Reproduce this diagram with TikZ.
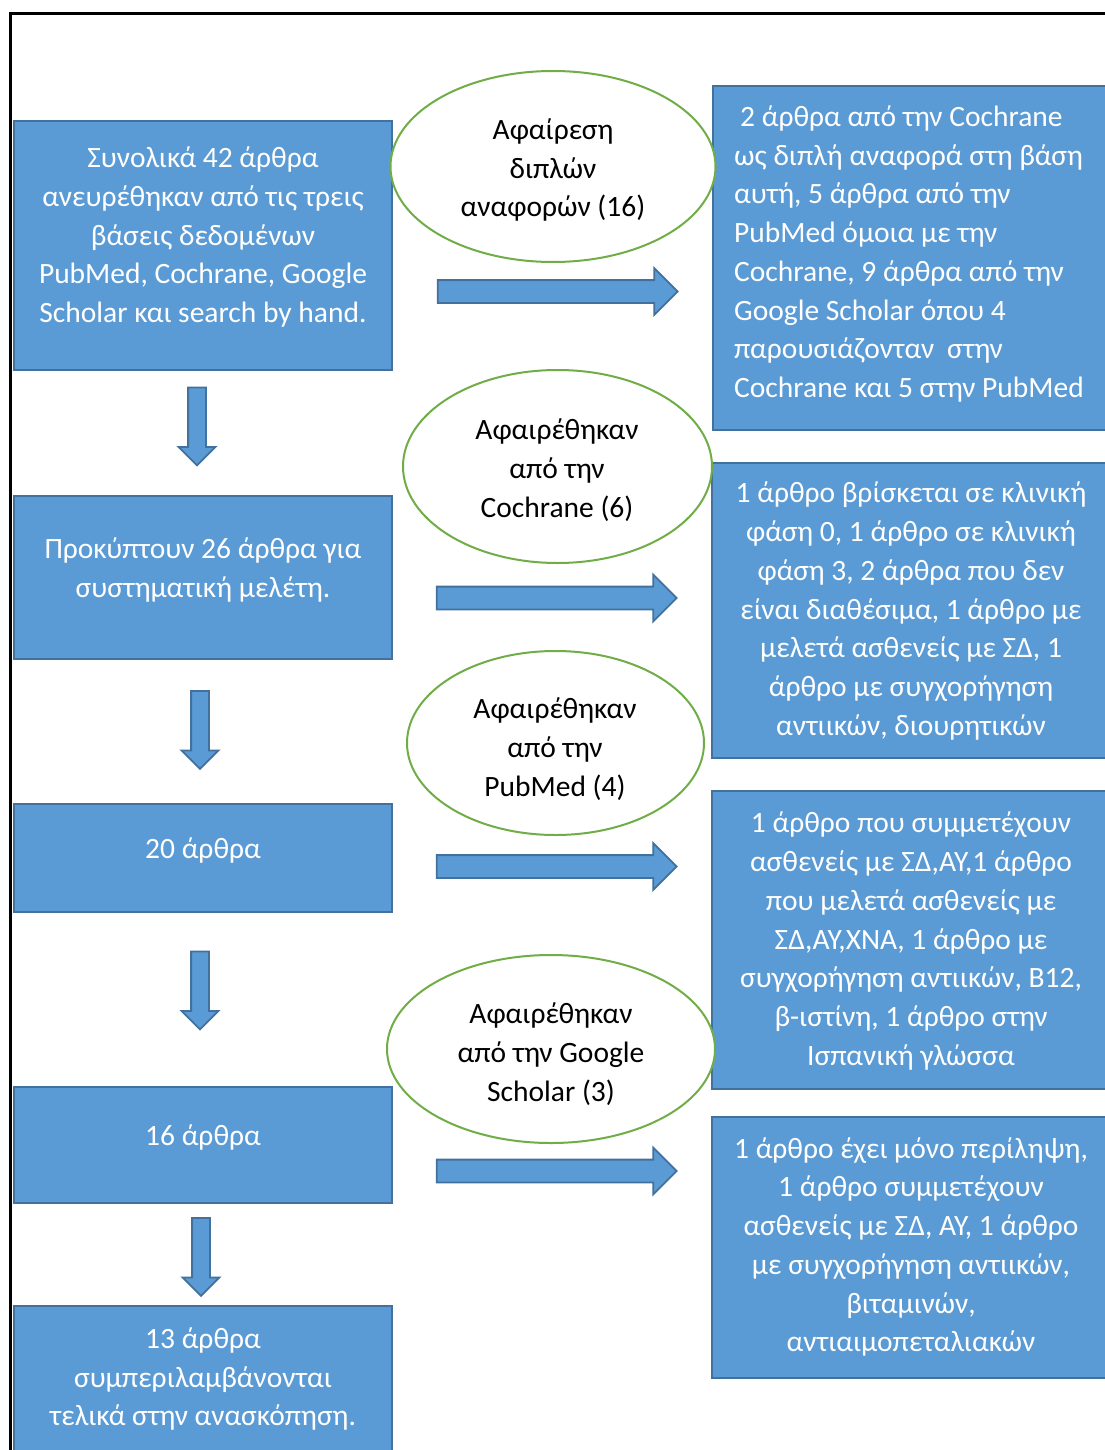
\documentclass[tikz,border=0pt]{standalone}
\usepackage{fontspec}
\setmainfont{Carlito}
\usetikzlibrary{shapes.geometric,shapes.arrows}
\definecolor{boxblue}{HTML}{5B9BD5}
\definecolor{boxedge}{HTML}{41719C}
\definecolor{ellgreen}{HTML}{70AD47}
\tikzset{
  bbox/.style={draw=boxedge, line width=1.5pt, fill=boxblue, rectangle, inner sep=0pt},
  btext/.style={text=white, align=center, inner sep=0pt, font=\fontsize{29.5}{38.75}\selectfont},
  etext/.style={text=black, align=center, inner sep=0pt, font=\fontsize{29.5}{38.75}\selectfont},
  ell/.style={draw=ellgreen, line width=2pt, fill=white, ellipse, inner sep=0pt},
  rarr/.style={single arrow, draw=boxedge, line width=1.8pt, fill=boxblue, minimum height=240pt,
    minimum width=45pt, single arrow head extend=12pt, inner xsep=0pt, inner ysep=10.5pt},
  darr/.style={single arrow, draw=boxedge, line width=1.8pt, fill=boxblue, minimum height=78pt,
    minimum width=35pt, single arrow head extend=9.5pt, inner xsep=0pt, inner ysep=8pt, rotate=-90},
}
\begin{document}
\begin{tikzpicture}[x=1pt,y=-1pt]
\useasboundingbox (0,0) rectangle (1104,1450);
\fill[white] (0,0) rectangle (1104,1450);
% outer frame
\draw[line width=3pt] (10.5,1470) -- (10.5,13.5) -- (1120,13.5);

% left column boxes
\node[bbox, minimum width=378pt, minimum height=249pt] (b1) at (203,245.5) {};
\node[bbox, minimum width=378pt, minimum height=163pt] (b2) at (203,577.5) {};
\node[bbox, minimum width=378pt, minimum height=108pt] (b3) at (203,858) {};
\node[bbox, minimum width=378pt, minimum height=116pt] (b4) at (203,1145) {};
\node[bbox, minimum width=378pt, minimum height=164pt] (b5) at (203,1388) {};

\node[btext] (t1) at (203,237) {Συνολικά 42 άρθρα\\ανευρέθηκαν από τις τρεις\\βάσεις δεδομένων\\PubMed, Cochrane, Google\\Scholar και search by hand.};
\node[btext] (t2) at (203,570) {Προκύπτουν 26 άρθρα για\\συστηματική μελέτη.};
\node[btext] (t3) at (203,850) {20 άρθρα};
\node[btext] (t4) at (203,1137) {16 άρθρα};
\node[btext] (t5) at (203,1379) {13 άρθρα\\συμπεριλαμβάνονται\\τελικά στην ανασκόπηση.};

% right column boxes
\node[bbox, minimum width=397pt, minimum height=344pt] (r1) at (911.5,258) {};
\node[bbox, minimum width=398pt, minimum height=295pt] (r2) at (911,610.5) {};
\node[bbox, minimum width=398pt, minimum height=298pt] (r3) at (911,940) {};
\node[bbox, minimum width=398pt, minimum height=261pt] (r4) at (911,1247.5) {};

\node[btext, align=left] (s1) at (909,254) {\hspace{6pt}2 άρθρα από την Cochrane\\ως διπλή αναφορά στη βάση\\αυτή, 5 άρθρα από την\\PubMed όμοια με την\\Cochrane, 9 άρθρα από την\\Google Scholar όπου 4\\παρουσιάζονταν\hspace{6pt} στην\\Cochrane και 5 στην PubMed};
\node[btext] (s2) at (911,611) {1 άρθρο βρίσκεται σε κλινική\\φάση 0, 1 άρθρο σε κλινική\\φάση 3, 2 άρθρα που δεν\\είναι διαθέσιμα, 1 άρθρο με\\μελετά ασθενείς με ΣΔ, 1\\άρθρο με συγχορήγηση\\αντιικών, διουρητικών};
\node[btext] (s3) at (911,941) {1 άρθρο που συμμετέχουν\\ασθενείς με ΣΔ,ΑΥ,1 άρθρο\\που μελετά ασθενείς με\\ΣΔ,ΑΥ,ΧΝΑ, 1 άρθρο με\\συγχορήγηση αντιικών, Β12,\\β-ιστίνη, 1 άρθρο στην\\Ισπανική γλώσσα};
\node[btext] (s4) at (911,1247) {1 άρθρο έχει μόνο περίληψη,\\1 άρθρο συμμετέχουν\\ασθενείς με ΣΔ, ΑΥ, 1 άρθρο\\με συγχορήγηση αντιικών,\\βιταμινών,\\αντιαιμοπεταλιακών};

% ellipses
\node[ell, minimum width=325pt, minimum height=191pt] (e1) at (553,166.5) {};
\node[ell, minimum width=309pt, minimum height=193pt] (e2) at (557.5,466.5) {};
\node[ell, minimum width=297pt, minimum height=184pt] (e3) at (555.5,743) {};
\node[ell, minimum width=328pt, minimum height=188pt] (e4) at (551,1049) {};

\node[etext] (u1) at (553,170) {Αφαίρεση\\διπλών\\αναφορών (16)};
\node[etext] (u2) at (557,470) {Αφαιρέθηκαν\\από την\\Cochrane (6)};
\node[etext] (u3) at (555,749) {Αφαιρέθηκαν\\από την\\PubMed (4)};
\node[etext] (u4) at (551,1054) {Αφαιρέθηκαν\\από την Google\\Scholar (3)};

% right block arrows
\node[rarr] (a1) at (552,291.5) {};
\node[rarr] (a2) at (551,598) {};
\node[rarr] (a3) at (551,866.5) {};
\node[rarr] (a4) at (551,1171) {};

% down block arrows
\node[darr] (d1) at (197,422) {};
\node[darr] (d2) at (200,725.5) {};
\node[darr] (d3) at (200,986) {};
\node[darr] (d4) at (201,1252.5) {};
\end{tikzpicture}
\end{document}
